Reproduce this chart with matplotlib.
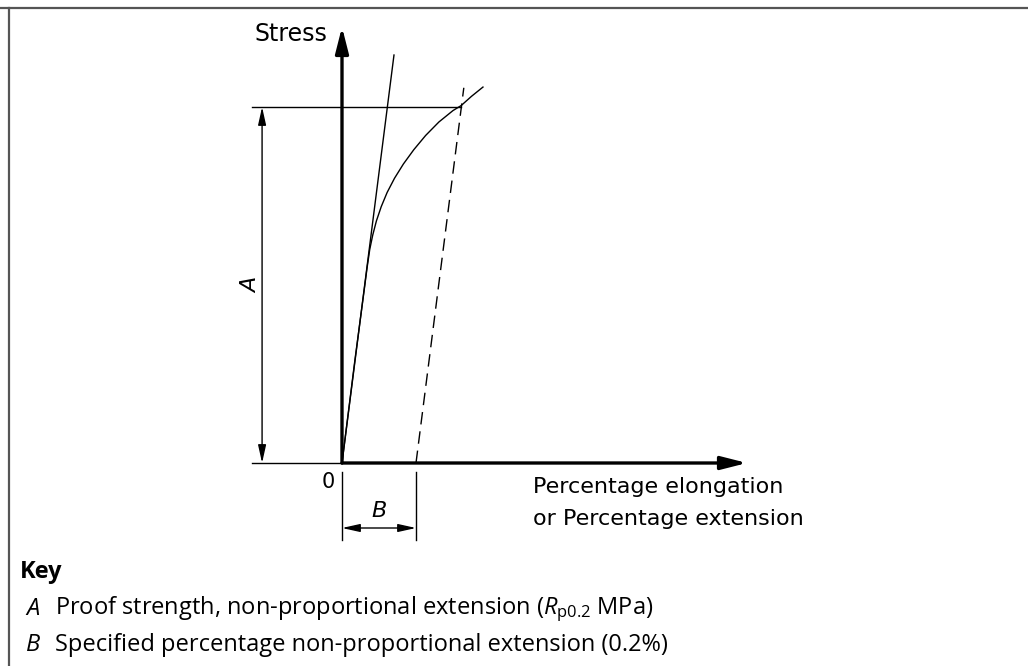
import matplotlib
matplotlib.use("Agg")
import matplotlib.pyplot as plt
from matplotlib.lines import Line2D

# ---- data (strain in %, stress in MPa, schematic) ----
curve_strain = [0.0, 0.035, 0.060, 0.068, 0.075, 0.083, 0.093, 0.106, 0.122, 0.142, 0.166, 0.194, 0.226, 0.262, 0.300, 0.322, 0.350, 0.381]
curve_stress = [0, 145, 243, 275, 300, 320, 340, 360, 380, 400, 420, 440, 460, 479, 495, 502, 515, 528]
offset = 0.2            # specified non-proportional extension (%)
rp02 = 500              # proof stress level
tangent_end = (0.1405, 573)
dashed_top_stress = 527

W, H = 1028, 666
fig = plt.figure(figsize=(W / 100, H / 100), dpi=100)
ax = fig.add_axes([0, 0, 1, 1])
ox, oy = 342, 463
sx, sy = 370.0, 0.712
ax.set_xlim(-ox / sx, (W - ox) / sx)
ax.set_ylim((oy - H) / sy, oy / sy)
ax.axis("off")

diag_font = ["DejaVu Sans"]
key_font = "Open Sans"
plt.rcParams["mathtext.fontset"] = "custom"
plt.rcParams["mathtext.rm"] = key_font
plt.rcParams["mathtext.it"] = key_font + ":italic"

thin = 1.0
k = "black"

# frame (top and left edges only)
fig.add_artist(Line2D([0, 1], [1 - 7.5 / H, 1 - 7.5 / H], transform=fig.transFigure, color="#555555", lw=1.6))
fig.add_artist(Line2D([9 / W, 9 / W], [0, 1 - 7.5 / H], transform=fig.transFigure, color="#555555", lw=1.6))

# axes arrows
x_left = -0.243
big_head = "-|>,head_length=1.3,head_width=0.33"
ax.annotate("", xy=(0, (oy - 27) / sy), xytext=(0, 0),
            arrowprops=dict(arrowstyle=big_head, lw=2.4, color=k,
                            shrinkA=0, shrinkB=0, mutation_scale=12))
ax.annotate("", xy=((747 - ox) / sx, 0), xytext=(0, 0),
            arrowprops=dict(arrowstyle=big_head, lw=2.4, color=k,
                            shrinkA=0, shrinkB=0, mutation_scale=12))
ax.plot([x_left, 0], [0, 0], color=k, lw=thin)

# tangent (proportional) line
ax.plot([0, tangent_end[0]], [0, tangent_end[1]], color=k, lw=thin)
# offset dashed line parallel to tangent
slope = tangent_end[0] / tangent_end[1]
ax.plot([offset, offset + slope * dashed_top_stress], [0, dashed_top_stress], color=k, lw=thin,
        dashes=(9, 5))
# stress-strain curve
ax.plot(curve_strain, curve_stress, color=k, lw=thin)

# proof stress level line
x_int = offset + slope * rp02
ax.plot([x_left, x_int], [rp02, rp02], color=k, lw=thin)

dim_head = "<|-|>,head_length=1.35,head_width=0.3"
# dimension A
xa = -0.216
ax.annotate("", xy=(xa, rp02), xytext=(xa, 0),
            arrowprops=dict(arrowstyle=dim_head, lw=thin, color=k,
                            shrinkA=0, shrinkB=0, mutation_scale=8))
ax.text(xa - 0.03, rp02 / 2, "A", rotation=90, ha="center", va="center", fontsize=16,
        family=diag_font, style="italic")

# dimension B
yb_top, yb_bot = (oy - 472) / sy, (oy - 540) / sy
ax.plot([0, 0], [yb_top, yb_bot], color=k, lw=thin)
ax.plot([offset, offset], [yb_top, yb_bot], color=k, lw=thin)
yb = (oy - 528) / sy
ax.annotate("", xy=(offset, yb), xytext=(0, yb),
            arrowprops=dict(arrowstyle=dim_head, lw=thin, color=k,
                            shrinkA=0, shrinkB=0, mutation_scale=8))
ax.text(offset / 2, (oy - 511) / sy, "B", ha="center", va="center", fontsize=16,
        family=diag_font, style="italic")

# labels
ax.text(-15 / sx, (oy - 34) / sy, "Stress", ha="right", va="center", fontsize=17, family=diag_font)
ax.text(-14 / sx, (oy - 482) / sy, "0", ha="center", va="center", fontsize=15, family=diag_font)
ax.text((533 - ox) / sx, (oy - 487) / sy, "Percentage elongation", ha="left", va="center",
        fontsize=16, family=diag_font)
ax.text((533 - ox) / sx, (oy - 519) / sy, "or Percentage extension", ha="left", va="center",
        fontsize=16, family=diag_font)

# key
ks = 17
fig.text(20 / W, 1 - 572 / H, "Key", fontsize=ks, weight="bold", family=key_font, va="center")
fig.text(26 / W, 1 - 609 / H, "A", fontsize=ks, style="italic", family=key_font, va="center")
fig.text(55 / W, 1 - 609 / H,
         r"Proof strength, non-proportional extension ($\mathit{R}_{\mathrm{p0.2}}$ MPa)",
         fontsize=ks, family=key_font, va="center")
fig.text(26 / W, 1 - 645 / H, "B", fontsize=ks, style="italic", family=key_font, va="center")
fig.text(55 / W, 1 - 645 / H, "Specified percentage non-proportional extension (0.2%)",
         fontsize=ks, family=key_font, va="center")

fig.savefig("out.png", dpi=100)
